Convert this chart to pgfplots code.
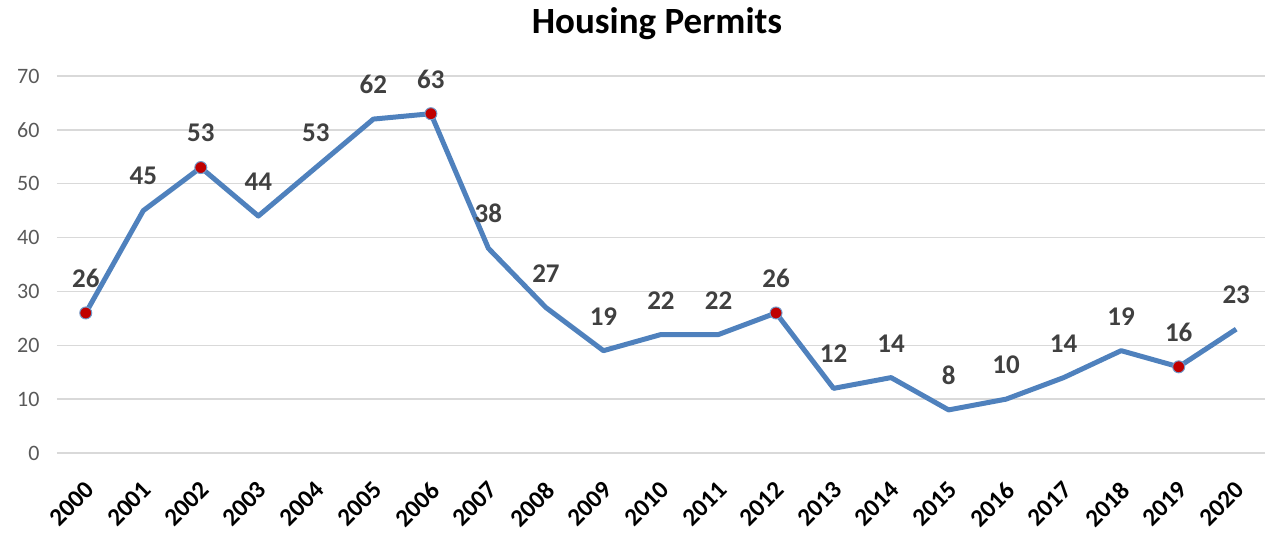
\documentclass[border=0pt]{standalone}
\usepackage{pgfplots}
\pgfplotsset{compat=1.18}
\usepackage{fontspec}
\setmainfont{Carlito}
\definecolor{lineblue}{HTML}{4F81BD}
\definecolor{gridgray}{HTML}{D9D9D9}
\definecolor{ticgray}{HTML}{595959}
\definecolor{labgray}{HTML}{404040}
\definecolor{mred}{HTML}{C00000}
\begin{document}
\begin{tikzpicture}
\useasboundingbox (-57pt,-82pt) rectangle (1210pt,453pt);
\begin{axis}[
  at={(0,0)}, anchor=south west,
  scale only axis, width=1208pt, height=377pt,
  xmin=-0.5, xmax=20.5, ymin=0, ymax=70,
  xtick={0,...,20},
  xticklabels={2000,2001,2002,2003,2004,2005,2006,2007,2008,2009,2010,2011,2012,2013,2014,2015,2016,2017,2018,2019,2020},
  ytick={0,10,...,70},
  /pgf/number format/assume math mode=true,
  ymajorgrids, grid style={gridgray, line width=1.5pt},
  axis line style={draw=none},
  major tick length=0pt,
  xticklabel style={xshift=-2pt, yshift=-27pt, rotate=45, anchor=north east, inner sep=0pt, font=\fontsize{25}{30}\selectfont\bfseries, text=black},
  yticklabel style={font=\fontsize{22}{26}\selectfont, text=ticgray, xshift=-14pt},
  title={Housing Permits},
  title style={at={(0.4967,1)}, anchor=center, yshift=46pt, font=\fontsize{37}{42}\selectfont\bfseries},
  clip=false,
]
\addplot[lineblue, line width=5pt, line join=round, mark=none,
  nodes near coords,
  every node near coord/.append style={anchor=south, inner sep=0pt, yshift=23pt, font=\fontsize{27}{32}\selectfont\bfseries, text=labgray}]
 coordinates {(0,26)(1,45)(2,53)(3,44)(4,53)(5,62)(6,63)(7,38)(8,27)(9,19)(10,22)(11,22)(12,26)(13,12)(14,14)(15,8)(16,10)(17,14)(18,19)(19,16)(20,23)};
\addplot[only marks, mark=*, mark size=6pt, mark options={fill=mred, draw=lineblue!80, line width=1pt}]
 coordinates {(0,26)(2,53)(6,63)(12,26)(19,16)};
\end{axis}
\end{tikzpicture}
\end{document}
